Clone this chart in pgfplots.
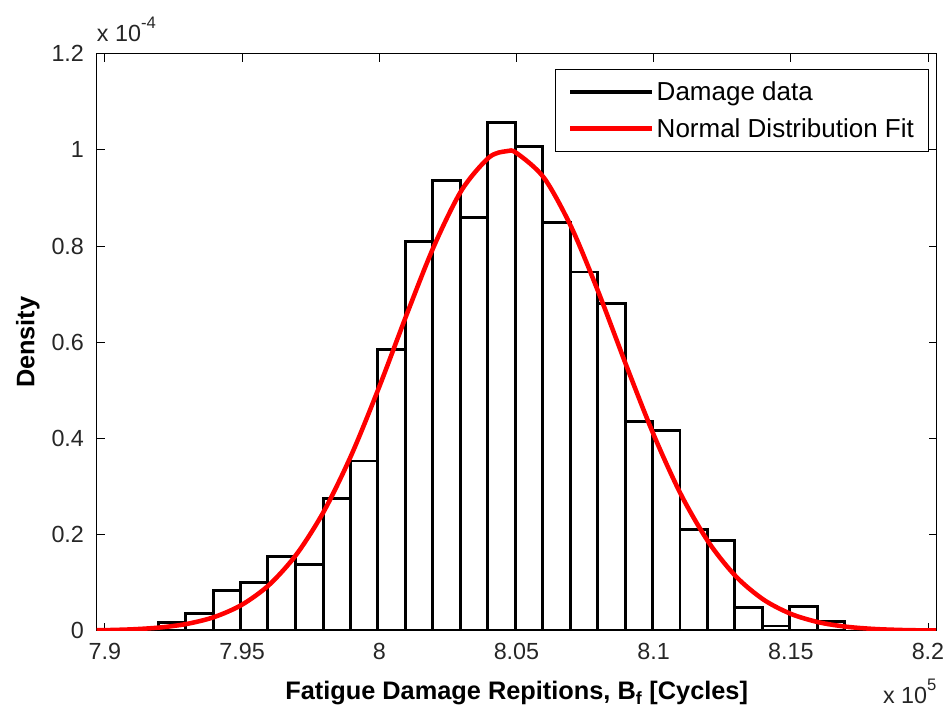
\documentclass[border=0pt]{standalone}
\usepackage{fontspec}
\setmainfont{Liberation Sans}
\usepackage{pgfplots}
\pgfplotsset{compat=1.18}
\begin{document}
\begin{tikzpicture}
\useasboundingbox (-72.5pt,-63.2pt) rectangle (639.25pt,473.05pt);
\begin{axis}[
  scale only axis, width=630pt, height=432.75pt,
  xmin=7.89698, xmax=8.20317, ymin=0, ymax=1.2,
  axis line style={black, line width=0.9pt},
  tick align=inside, major tick length=6pt,
  tick style={black, line width=0.7pt},
  xtick={7.9,7.95,8,8.05,8.1,8.15,8.2},
  xticklabels={7.9,7.95,8,8.05,8.1,8.15,8.2},
  ytick={0,0.2,0.4,0.6,0.8,1,1.2},
  yticklabels={0,0.2,0.4,0.6,0.8,1,1.2},
  xtick pos=both, ytick pos=both,
  xticklabel pos=left, yticklabel pos=left,
  scaled ticks=false,
  /pgf/number format/assume math mode=true,
  ticklabel style={font=\fontsize{17.5}{20}\selectfont, color=black!85},
  xticklabel style={yshift=-6pt},
  yticklabel style={xshift=-6pt},
  xlabel={\textbf{Fatigue Damage Repitions, B\textsubscript{f} [Cycles]}},
  ylabel={\textbf{Density}},
  label style={font=\fontsize{19}{22}\selectfont},
  xlabel style={at={(axis description cs:0.5,-0.087)}, anchor=north, inner sep=0pt},
  ylabel style={at={(axis description cs:-0.082,0.5)}, anchor=center, rotate=0, inner sep=0pt},
  legend style={at={(axis description cs:0.991,0.9735)}, anchor=north east,
    draw=black, line width=0.8pt, fill=white,
    font=\fontsize{19.5}{23}\selectfont,
    cells={anchor=west}, row sep=8pt, inner xsep=9pt, inner ysep=7pt},
  legend cell align=left,
]
\addplot[ybar interval, fill=white, draw=black, line width=2.2pt,
  legend image code/.code={\draw[black, line width=2.8pt] (0pt,0pt) -- (61pt,0pt);}]
coordinates {
(7.9194,0.0175)(7.9294,0.035)(7.9394,0.083)(7.9494,0.0998)(7.9594,0.155)
(7.9695,0.138)(7.9795,0.275)(7.9895,0.353)(7.9995,0.584)(8.0095,0.810)
(8.0195,0.936)(8.0295,0.859)(8.0395,1.057)(8.0495,1.008)(8.0595,0.849)
(8.0696,0.746)(8.0796,0.681)(8.0896,0.4345)(8.0996,0.417)(8.1096,0.211)
(8.1196,0.1886)(8.1296,0.0486)(8.1396,0.0098)(8.1496,0.050)(8.1596,0.0187)
(8.1697,0)
};
\addlegendentry{Damage data}
\addplot[red, line width=3.4pt, smooth,
  legend image code/.code={\draw[red, line width=3.6pt] (0pt,0pt) -- (61pt,0pt);}]
coordinates {
(7.897,0.0010)(7.90,0.00122)(7.91,0.00295)(7.92,0.00672)(7.93,0.01435)(7.94,0.0288)
(7.95,0.0543)(7.96,0.0962)(7.97,0.1602)(7.98,0.2504)(7.99,0.3678)
(8.00,0.5075)(8.01,0.6578)(8.02,0.8008)(8.03,0.9160)(8.04,0.9843)
(8.0465,0.9974)(8.05,0.9936)(8.06,0.9422)(8.07,0.8393)(8.08,0.7024)(8.09,0.5522)
(8.10,0.4078)(8.11,0.2829)(8.12,0.1844)(8.13,0.1129)(8.14,0.0649)
(8.15,0.0351)(8.16,0.0178)(8.17,0.0085)(8.18,0.0038)(8.19,0.0016)
(8.20,0.0006)(8.203,0.0005)
};
\addlegendentry{Normal Distribution Fit}
\end{axis}
\node[anchor=south west, inner sep=0pt, font=\fontsize{17.5}{20}\selectfont, color=black!85]
  at ([yshift=9pt]current axis.north west) {x 10\raisebox{0.55em}{\fontsize{12.5}{12}\selectfont -4}};
\node[anchor=north east, inner sep=0pt, font=\fontsize{17.5}{20}\selectfont, color=black!85]
  at ([yshift=-36pt]current axis.south east) {x 10\raisebox{0.55em}{\fontsize{12.5}{12}\selectfont 5}};
\end{tikzpicture}
\end{document}
